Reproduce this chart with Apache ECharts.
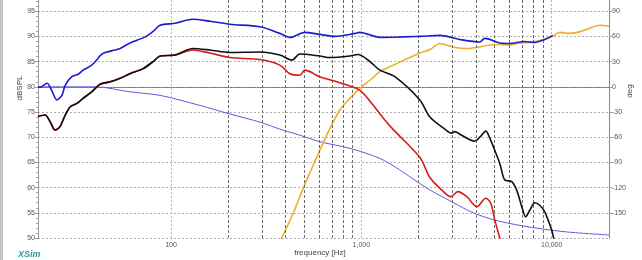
<!DOCTYPE html>
<html>
<head>
<meta charset="utf-8">
<script src="https://cdn.jsdelivr.net/npm/echarts@6/dist/echarts.min.js"></script>
<style>
html,body{margin:0;padding:0;background:#fff;}
#chart{width:642px;height:260px;}
</style>
</head>
<body>
<div id="chart"></div>
<script>
// ---- data (frequency in Hz, level in dB SPL) ----
const blueFreq = [20,20.5,22.3,23.6,25.1,26.7,27.8,30.1,32.5,34.5,38.3,40.7,42.4,45.1,50.8,54,60.9,73.1,80.5,87.6,105,130,160,204,293,373,421,505,605,726,925,982,1250,2028,2585,3290,4188,4448,5336,6020,7218,8146,9190,10120];
const blueSpl  = [80.0,79.9,80.7,79.3,77.4,78.3,80.3,82.0,82.5,83.3,84.3,85.3,86.2,86.8,87.3,87.6,88.7,89.9,91.0,92.2,92.6,93.4,93.0,92.4,91.9,90.6,89.8,90.8,90.4,90.0,90.6,90.8,89.8,90.0,90.2,89.4,88.9,89.6,88.7,88.6,89.0,88.8,89.4,90.2];

const blackFreq = [20,21.8,23.2,24.6,26.1,27.8,29.5,32,34.5,38.3,42.4,47.9,54,60.9,71.3,80.5,87.6,105,130,160,204,293,373,432,475,605,683,870,959,1109,1250,1499,2028,2291,2744,2976,3097,3290,3945,4188,4507,4728,5022,5336,5667,6166,6547,6964,7305,7668,8146,8652,9190,10000,10240,10600];
const blackSpl  = [74.1,74.4,73.0,71.4,72.1,74.4,76.0,76.7,77.7,79.0,80.5,81.0,81.7,82.6,83.6,85.0,86.1,86.3,87.6,87.3,86.8,86.9,86.3,85.3,86.5,86.1,85.8,86.1,86.4,85.0,83.3,82.0,77.4,74.0,71.6,70.8,71.1,70.6,69.2,70.0,71.2,69.8,67.4,64.8,61.5,61.2,59.5,56.2,54.2,55.5,57.0,56.5,55.2,51.6,50.0,48.5];

const redFreq = [20,21.8,23.2,24.6,26.1,27.8,29.5,32,34.5,38.3,42.4,47.9,54,60.9,71.3,80.5,87.6,105,130,160,204,293,373,421,475,505,605,771,982,1135,1328,1463,2028,2291,2648,2950,3212,3580,4041,4507,4786,5022,5336,5600];
const redSpl  = [74.1,74.4,73.0,71.4,72.1,74.4,76.0,76.7,77.7,79.0,80.5,81.0,81.7,82.6,83.6,85.0,86.1,86.3,87.3,86.7,85.8,85.4,84.3,82.6,82.3,83.3,82.0,80.8,79.3,76.7,73.4,71.6,66.0,62.0,59.5,58.2,59.2,58.2,56.2,57.9,56.9,53.6,50.0,47.5];

const thinFreq = [20,40,60.9,87.6,142,204,293,373,475,605,870,1250,1592,2028,2372,2915,3580,4188,5336,7854,12000,20000];
const thinSpl  = [80.0,80.0,79.0,78.3,76.3,74.6,73.0,71.6,70.4,69.1,67.8,65.8,63.5,60.8,59.2,57.4,55.6,54.5,53.3,52.1,51.2,50.6];

const yellowFreq = [360,381,438,499,605,683,771,870,982,1109,1250,1411,1592,2028,2291,2585,3021,3580,4188,4728,5336,6020,6796,7668,8866,10000,11010,12420,14020,15820,17860,20000];
const yellowSpl  = [48.5,50.0,54.9,60.2,67.4,71.7,75.4,77.7,79.7,81.3,83.0,84.0,84.9,86.7,87.4,88.6,87.9,87.6,87.9,88.3,88.4,88.3,88.7,88.8,89.3,89.9,90.8,90.6,90.9,91.6,92.2,92.0];

const decadeFreqs = [100,1000,10000];
const minorFreqs  = [200,300,400,500,600,700,800,900,2000,3000,4000,5000,6000,7000,8000,9000];

const pair = (f, v) => f.map((x, i) => [x, v[i]]);

const chart = echarts.init(document.getElementById('chart'), null, {renderer:'canvas'});

const gridLines = decadeFreqs.map(f => ({xAxis: f, lineStyle:{color:'#b8b8b8', type:[2,2], width:1}}))
  .concat(minorFreqs.map(f => ({xAxis: f, lineStyle:{color:'#6a6a6a', type:[3,2], width:1}})));

const lineSeries = (data, color, width, z) => ({
  type:'line', data, showSymbol:false, symbol:'none', smooth:0.3, clip:true, z,
  lineStyle:{color, width}, animation:false, silent:true
});

const option = {
  animation:false,
  backgroundColor:'#ffffff',
  grid:{left:38, right:33, top:-14, bottom:22, containLabel:false, outerBoundsMode:'none'},
  xAxis:{
    type:'log', logBase:10, min:20, max:20000,
    axisLine:{show:true, lineStyle:{color:'#777', type:[2,1], width:1}},
    axisTick:{show:false},
    splitLine:{show:false},
    axisLabel:{
      fontSize:7, color:'#555', margin:4, fontFamily:'Liberation Sans',
      showMinLabel:false, showMaxLabel:false,
      formatter: v => {
        const r = Math.round(v);
        return decadeFreqs.includes(r) ? r.toLocaleString('en-US') : '';
      }
    }
  },
  yAxis:[
    {
      type:'value', min:50, max:100, interval:5, position:'left',
      axisLine:{show:true, lineStyle:{color:'#999', width:1}},
      axisTick:{show:true, length:3, lineStyle:{color:'#999'}},
      minorTick:{show:true, splitNumber:5, length:2, lineStyle:{color:'#aaa'}},
      splitLine:{show:true, lineStyle:{color:'#b0b0b0', type:[2,2], width:1}},
      axisLabel:{fontSize:7, color:'#555', margin:3, fontFamily:'Liberation Sans'}
    },
    {
      type:'value', min:-180, max:120, interval:30, position:'right',
      axisLine:{show:true, lineStyle:{color:'#888', width:1}},
      axisTick:{show:true, length:3, lineStyle:{color:'#999'}},
      splitLine:{show:false},
      axisLabel:{fontSize:7, color:'#555', margin:3, showMinLabel:false, fontFamily:'Liberation Sans'}
    }
  ],
  graphic:[
    {type:'rect', left:0, top:0, shape:{width:3, height:260}, style:{fill:'#c4c4c4'}, silent:true},
    {type:'text', x:20, y:88, rotation:Math.PI/2, silent:true,
      style:{text:'dBSPL', fontSize:8, fill:'#444', align:'center', verticalAlign:'middle', fontFamily:'Liberation Sans'}},
    {type:'text', x:630, y:91, rotation:Math.PI/2, silent:true,
      style:{text:'deg', fontSize:8, fill:'#444', align:'center', verticalAlign:'middle', fontFamily:'Liberation Sans'}},
    {type:'text', x:320, y:253, silent:true,
      style:{text:'frequency [Hz]', fontSize:8, fill:'#444', align:'center', verticalAlign:'middle', fontFamily:'Liberation Sans'}},
    {type:'text', x:18, y:255, silent:true,
      style:{text:'XSim', fontSize:9, fontStyle:'italic', fontWeight:'bold', fill:'#2e9a9a', align:'left', verticalAlign:'middle', fontFamily:'Liberation Sans'}}
  ],
  series:[
    {
      type:'line', data:[], silent:true, animation:false, z:1,
      markLine:{silent:true, symbol:['none','none'], label:{show:false}, animation:false, data:gridLines}
    },
    lineSeries(pair(thinFreq, thinSpl), '#5c5ce0', 1, 3),
    lineSeries(pair(yellowFreq, yellowSpl), '#eeb028', 1.6, 4),
    lineSeries(pair(redFreq, redSpl), '#d41c1c', 1.6, 5),
    lineSeries(pair(blackFreq, blackSpl), '#111111', 1.6, 6),
    lineSeries(pair(blueFreq, blueSpl), '#1c1ccc', 1.6, 7)
  ]
};
chart.setOption(option);
</script>
</body>
</html>
